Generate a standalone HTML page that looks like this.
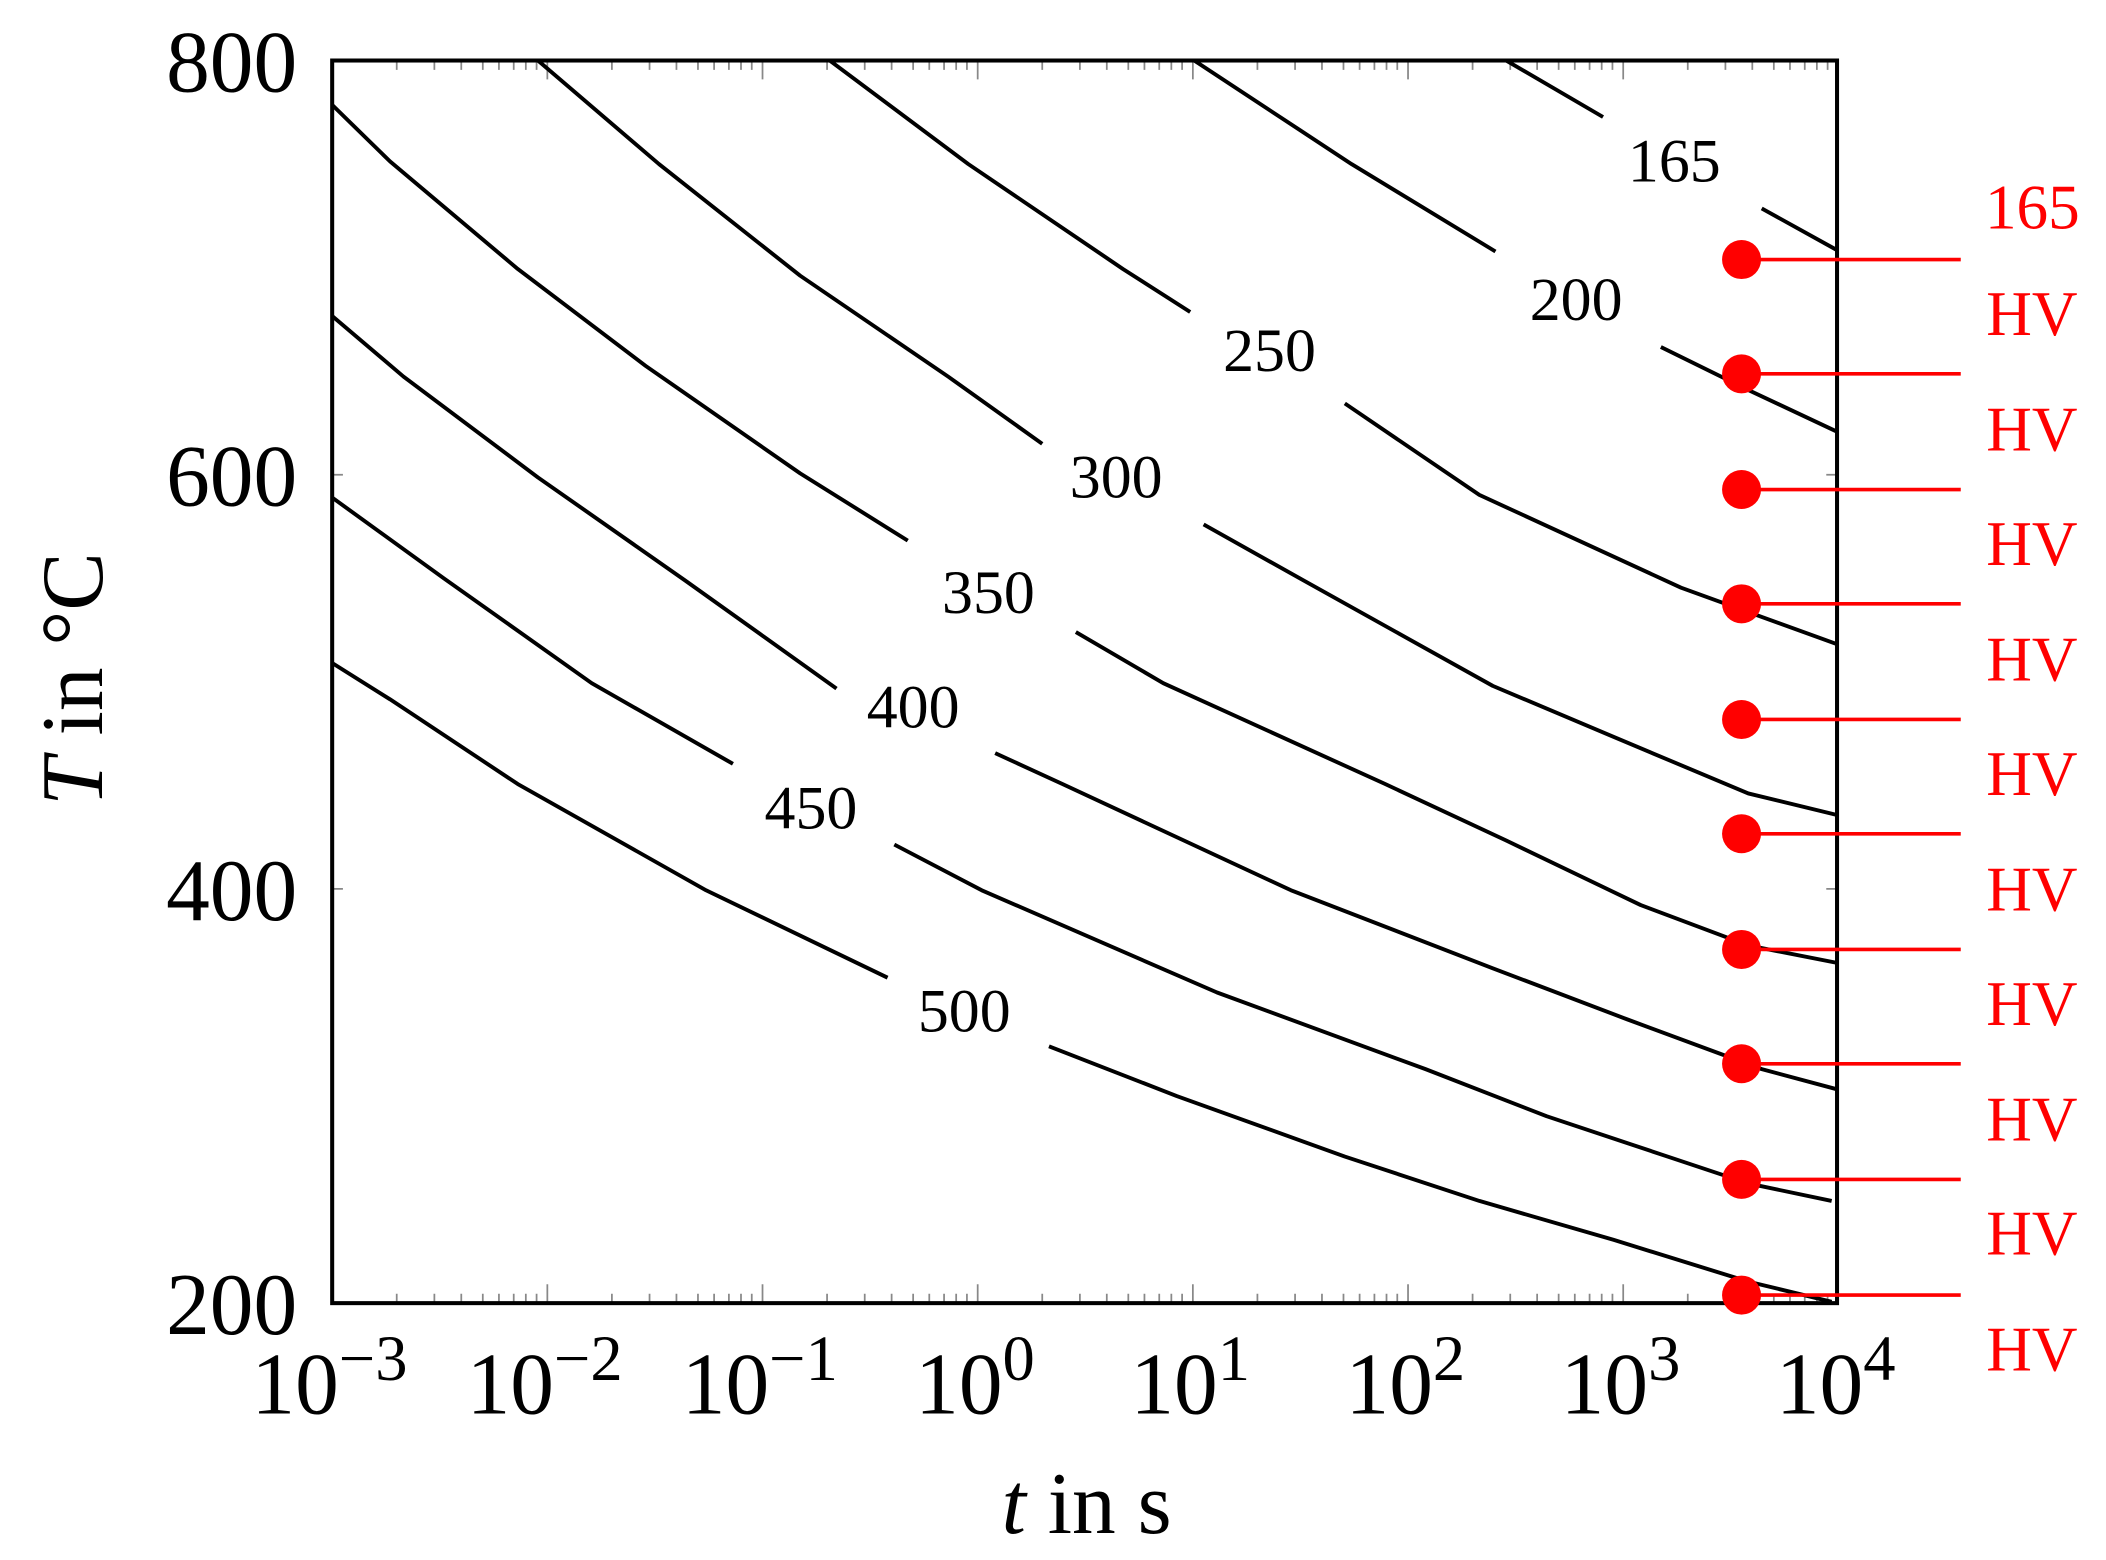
<!DOCTYPE html>
<html><head><meta charset="utf-8"><style>
html,body{margin:0;padding:0;background:#fff;}
svg{display:block;}
text{font-family:"Liberation Serif",serif;}
</style></head><body>
<svg width="2106" height="1560" viewBox="0 0 1566 1160" xmlns="http://www.w3.org/2000/svg">
<rect width="1566" height="1160" fill="#fff"/>
<g stroke="#888" stroke-width="1.3" fill="none">
<path d="
M295,969v-7M323,969v-7M343,969v-7M359,969v-7M371,969v-7M382,969v-7M391,969v-7M399,969v-7M407,969v-14
M455,969v-7M483,969v-7M503,969v-7M519,969v-7M531,969v-7M542,969v-7M551,969v-7M559,969v-7M567,969v-14
M615,969v-7M643,969v-7M663,969v-7M679,969v-7M691,969v-7M702,969v-7M711,969v-7M719,969v-7M727,969v-14
M775,969v-7M803,969v-7M823,969v-7M839,969v-7M851,969v-7M862,969v-7M871,969v-7M879,969v-7M887,969v-14
M935,969v-7M963,969v-7M983,969v-7M999,969v-7M1011,969v-7M1022,969v-7M1031,969v-7M1039,969v-7M1047,969v-14
M1095,969v-7M1123,969v-7M1143,969v-7M1159,969v-7M1171,969v-7M1182,969v-7M1191,969v-7M1199,969v-7M1207,969v-14
M1255,969v-7M1283,969v-7M1303,969v-7M1319,969v-7M1331,969v-7M1342,969v-7M1351,969v-7M1359,969v-7
M295,45v7M323,45v7M343,45v7M359,45v7M371,45v7M382,45v7M391,45v7M399,45v7M407,45v14
M455,45v7M483,45v7M503,45v7M519,45v7M531,45v7M542,45v7M551,45v7M559,45v7M567,45v14
M615,45v7M643,45v7M663,45v7M679,45v7M691,45v7M702,45v7M711,45v7M719,45v7M727,45v14
M775,45v7M803,45v7M823,45v7M839,45v7M851,45v7M862,45v7M871,45v7M879,45v7M887,45v14
M935,45v7M963,45v7M983,45v7M999,45v7M1011,45v7M1022,45v7M1031,45v7M1039,45v7M1047,45v14
M1095,45v7M1123,45v7M1143,45v7M1159,45v7M1171,45v7M1182,45v7M1191,45v7M1199,45v7M1207,45v14
M1255,45v7M1283,45v7M1303,45v7M1319,45v7M1331,45v7M1342,45v7M1351,45v7M1359,45v7
M247,353h8M247,661h8M1366,353h-8M1366,661h-8"/>
</g>
<g stroke="#000" stroke-width="2.9" fill="none" stroke-linejoin="round">
<path d="M247,493 L290,520 L385,583 L525,662 L660,727"/>
<path d="M780,778 L875,815 L1000,860 L1100,893 L1200,922 L1300,953 L1362,968"/>
<path d="M247,370 L330,430 L440,508 L545,568"/>
<path d="M665,628 L730,662 L905,738 L1060,795 L1150,830 L1240,860 L1300,880 L1362,893"/>
<path d="M247,235 L300,280 L400,355 L510,432 L622,512"/>
<path d="M740,560 L790,583 L960,662 L1110,720 L1210,758 L1310,795 L1366,810"/>
<path d="M247,78 L290,120 L385,200 L480,272 L595,352 L675,402"/>
<path d="M800,470 L865,508 L1030,583 L1120,625 L1220,673 L1300,703 L1366,716"/>
<path d="M400,45 L490,122 L595,205 L705,280 L775,330"/>
<path d="M895,390 L970,432 L1110,510 L1200,548 L1300,590 L1366,606"/>
<path d="M617,45 L720,122 L835,200 L885,232"/>
<path d="M1000,300 L1100,368 L1250,437 L1366,479"/>
<path d="M888,45 L1005,122 L1112,187"/>
<path d="M1235,258 L1300,290 L1366,321"/>
<path d="M1120,45 L1192,87"/>
<path d="M1310,155 L1366,186"/>
</g>
<rect x="247" y="45" width="1119" height="924" fill="none" stroke="#000" stroke-width="3"/>
<g font-size="46" text-anchor="middle" fill="#000">
<text x="717" y="767">500</text>
<text x="603" y="616">450</text>
<text x="679" y="541">400</text>
<text x="735" y="456">350</text>
<text x="830" y="370">300</text>
<text x="944" y="276">250</text>
<text x="1172" y="238">200</text>
<text x="1245" y="135">165</text>
</g>
<g font-size="65" text-anchor="end" fill="#000">
<text x="221" y="68">800</text>
<text x="221" y="376">600</text>
<text x="221" y="684">400</text>
<text x="221" y="992">200</text>
</g>
<g font-size="65" text-anchor="middle" fill="#000">
<text x="245" y="1051">10<tspan font-size="48" dy="-25">−3</tspan></text>
<text x="405" y="1051">10<tspan font-size="48" dy="-25">−2</tspan></text>
<text x="565" y="1051">10<tspan font-size="48" dy="-25">−1</tspan></text>
<text x="725" y="1051">10<tspan font-size="48" dy="-25">0</tspan></text>
<text x="885" y="1051">10<tspan font-size="48" dy="-25">1</tspan></text>
<text x="1045" y="1051">10<tspan font-size="48" dy="-25">2</tspan></text>
<text x="1205" y="1051">10<tspan font-size="48" dy="-25">3</tspan></text>
<text x="1365" y="1051">10<tspan font-size="48" dy="-25">4</tspan></text>
<text x="808" y="1140"><tspan font-style="italic">t</tspan> in s</text>
<text transform="translate(76,505) rotate(-90)"><tspan font-style="italic">T</tspan> in °C</text>
</g>
<g fill="#f00" stroke="#f00" stroke-width="2.7">
<path d="M1295,193H1458M1295,278H1458M1295,364H1458M1295,449H1458M1295,535H1458M1295,620H1458M1295,706H1458M1295,791H1458M1295,877H1458M1295,963H1458"/>
<g stroke="none">
<circle cx="1295" cy="193" r="14.5"/><circle cx="1295" cy="278" r="14.5"/><circle cx="1295" cy="364" r="14.5"/><circle cx="1295" cy="449" r="14.5"/><circle cx="1295" cy="535" r="14.5"/><circle cx="1295" cy="620" r="14.5"/><circle cx="1295" cy="706" r="14.5"/><circle cx="1295" cy="791" r="14.5"/><circle cx="1295" cy="877" r="14.5"/><circle cx="1295" cy="963" r="14.5"/>
</g>
<g stroke="none" font-size="47">
<text x="1476" y="170">165</text>
<text x="1477" y="249">HV</text>
<text x="1477" y="335">HV</text>
<text x="1477" y="420">HV</text>
<text x="1477" y="506">HV</text>
<text x="1477" y="591">HV</text>
<text x="1477" y="677">HV</text>
<text x="1477" y="762">HV</text>
<text x="1477" y="848">HV</text>
<text x="1477" y="933">HV</text>
<text x="1477" y="1019">HV</text>
</g>
</g>
</svg>
</body></html>
